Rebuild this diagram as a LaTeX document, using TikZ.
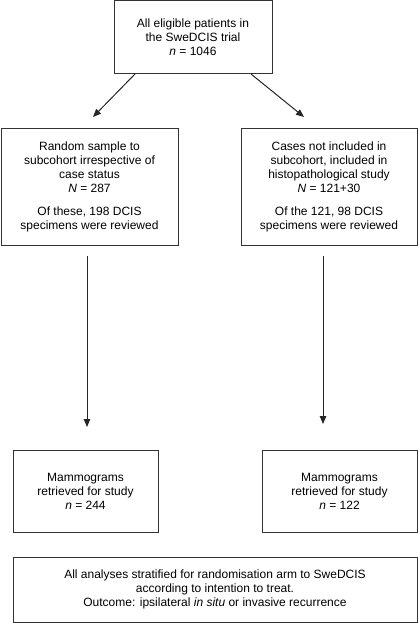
\documentclass[tikz,border=0pt]{standalone}
\usepackage{fontspec}
\setmainfont{Liberation Sans}
\usetikzlibrary{arrows.meta}
\tikzset{
    box/.style={draw=black!80, line width=1pt, align=center, inner sep=0, outer sep=0,
        font=\fontsize{12}{14}\selectfont},
    arr/.style={draw=black!85, line width=1pt, -{Triangle[length=8pt,width=6.5pt]}}
}

\begin{document}
\begin{tikzpicture}[x=1pt, y=-1pt]
    \useasboundingbox (0,0) rectangle (419,623);
    \node[box, minimum width=158pt, minimum height=73pt] (top) at (193,37.5)
        {All eligible patients in\\ the SweDCIS trial\\ \textit{n} = 1046};
    \node[box, minimum width=177pt, minimum height=117pt] (sub) at (89.5,186.5)
        {Random sample to\\ subcohort irrespective of\\ case status\\ \textit{N} = 287\\[9pt]
         Of these, 198 DCIS\\ specimens were reviewed};
    \node[box, minimum width=176pt, minimum height=117pt] (cas) at (329,186.5)
        {Cases not included in\\ subcohort, included in\\ histopathological study\\ \textit{N} = 121+30\\[9pt]
         Of the 121, 98 DCIS\\ specimens were reviewed};
    \node[box, minimum width=145pt, minimum height=82pt] (mamL) at (85.5,491)
        {Mammograms\\ retrieved for study\\ \textit{n} = 244};
    \node[box, minimum width=155pt, minimum height=82pt] (mamR) at (339.5,491)
        {Mammograms\\ retrieved for study\\ \textit{n} = 122};
    \node[box, minimum width=404pt, minimum height=65pt] (all) at (215,589.5)
        {All analyses stratified for randomisation arm to SweDCIS\\
         according to intention to treat.\\
         Outcome: ipsilateral \textit{in situ} or invasive recurrence};

    \coordinate (dl) at (93,117);
    \coordinate (dr) at (304,117);
    \coordinate (vl1) at (87,256);
    \coordinate (vl2) at (87,427);
    \coordinate (vr1) at (323,256);
    \coordinate (vr2) at (323,424);
    \draw[arr] ([xshift=-58pt]top.south) -- (dl);
    \draw[arr] ([xshift=58pt]top.south) -- (dr);
    \draw[arr] (vl1) -- (vl2);
    \draw[arr] (vr1) -- (vr2);
\end{tikzpicture}
\end{document}
